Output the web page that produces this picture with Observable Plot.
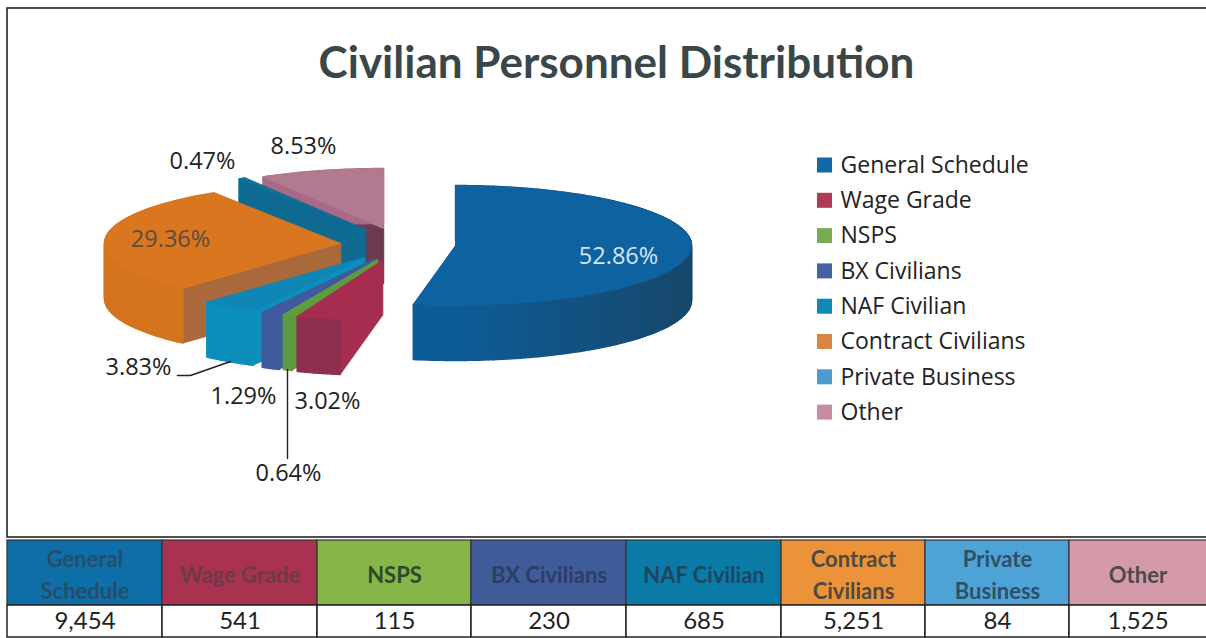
<!DOCTYPE html>
<html><head><meta charset="utf-8">
<script src="https://cdn.jsdelivr.net/npm/d3@7"></script>
<script src="https://cdn.jsdelivr.net/npm/@observablehq/plot@0.6"></script>
<style>html,body{margin:0;padding:0;background:#fff}svg{display:block}</style>
</head><body><div id="chart"></div>
<script>
// ---- data ----
const categories = ["General Schedule","Wage Grade","NSPS","BX Civilians","NAF Civilian","Contract Civilians","Private Business","Other"];
const headerLabels = ["General\nSchedule","Wage Grade","NSPS","BX Civilians","NAF Civilian","Contract\nCivilians","Private\nBusiness","Other"];
const counts = [9454,541,115,230,685,5251,84,1525];
const pctLabels = ["52.86%","3.02%","0.64%","1.29%","3.83%","29.36%","0.47%","8.53%"];

// ---- styles ----
const topColors  = ["#0e62a0","#a62c50","#5f9f3c","#41599f","#0f86b6","#d9761f","#11719a","#b27a90"];
const wallNear   = ["#0d5c98","#8f2f50","#5d9a40","#3f5b9d","#0c8fbb","#d4741f","#0e6a90","#a86a84"];
const wallFar    = ["#17486c","#8f2f50","#5d9a40","#3f5b9d","#0c8fbb","#cf7224","#0e6a90","#a86a84"];
const sideColors = ["#0d5a94","#a62d50","#5d9a40","#3f5b9d","#0c8fbb","#a9693a","#0e6a90","#6e3a50"];
const headColors = ["#0d6ea8","#a8324f","#86b548","#3f5b98","#0a7ba6","#ec9339","#4ea3d6","#d59aaa"];
const headText   = ["#274d6a","#6e3a4a","#2f4a2c","#2c3d66","#1e4660","#4f4a40","#2e5068","#4c4a4c"];
const swatches   = ["#0e6ba8","#b03a58","#79ab55","#46619f","#1288b8","#dc8540","#4b9bd0","#c88ba0"];

// ---- layout of the exploded 3D pie ----
const rx = 236, ry = 60, depth = 55;
const apexX = [455,382,377,373,364,340,365,383];
const apexY = [245,260,259,259,257,243,229,228];
const paintOrder = [7,6,5,4,3,2,1,0];
const labelX = [618,327,288,243,138,170,202,303];
const labelY = [256,401,473,396,367,239,161,146];
const labelColor = ["#d3e3f0","#222","#222","#222","#222","#5a4f3e","#222","#222"];

const total = d3.sum(counts);
const cum = d3.cumsum(counts);
const angle = v => v / total * 2 * Math.PI;
const rim = (i, a, dz = 0) => ({x: apexX[i] + rx * Math.sin(a), y: apexY[i] - ry * Math.cos(a) + dz});

const polys = [];
for (const i of paintOrder) {
  const a0 = angle(i ? cum[i-1] : 0), a1 = angle(cum[i]);
  const c = {x: apexX[i], y: apexY[i]}, cb = {x: apexX[i], y: apexY[i] + depth};
  const n = Math.max(2, Math.ceil((a1 - a0) / 0.02));
  const arc = d3.range(n + 1).map(k => a0 + (a1 - a0) * k / n);
  // radial walls
  polys.push({pts: [c, rim(i,a1), rim(i,a1,depth), cb], fill: sideColors[i], sw: 0.6});
  polys.push({pts: [c, rim(i,a0), rim(i,a0,depth), cb], fill: sideColors[i], sw: 0.6});
  // outer wall, shaded strip by strip; darkest where it faces away from the light
  const shade = d3.interpolateRgb(wallNear[i], wallFar[i]);
  for (let k = 0; k < n; k++) {
    const t = Math.max(0, Math.sin(arc[k]));
    polys.push({pts: [rim(i,arc[k]), rim(i,arc[k+1]), rim(i,arc[k+1],depth), rim(i,arc[k],depth)], fill: shade(t), sw: 1.4});
  }
  // top
  polys.push({pts: [c, ...arc.map(a => rim(i,a))], fill: topColors[i], sw: 0.6});
}
const polyMarks = polys.map(p => Plot.line(p.pts, {x:"x", y:"y", fill:p.fill, stroke:p.fill, strokeWidth:p.sw, curve:"linear-closed"}));

// ---- table ----
const colEdges = [7,162,317,471,626,781,925,1069,1212];
const cellCenters = [84.5,239.5,394,548.5,703.5,853,997,1137.5];
const tableY = [540,605,637];
const cols = categories.map((c,i) => ({i, x1: colEdges[i], x2: colEdges[i+1], cx: cellCenters[i],
  label: headerLabels[i], value: d3.format(",")(counts[i])}));

// ---- legend ----
const legend = categories.map((c,i) => ({c, i, y: 165 + i * 35.3}));

const plot = Plot.plot({
  width: 1206, height: 638, margin: 0,
  x: {domain:[0,1206], range:[0,1206], axis:null},
  y: {domain:[0,638], range:[0,638], axis:null},
  style: {background:"#fff"},
  marks: [
    // frame (runs off the right edge, as in the scan)
    Plot.rect([{}], {x1:7, x2:1212, y1:8, y2:537, fill:"#fff", stroke:"#222", strokeWidth:1.6}),
    Plot.text(["Civilian Personnel Distribution"], {x:616, y:63, text:d=>d, fontFamily:"Lato", fontWeight:700, fontSize:44, fill:"#3a4748"}),
    ...polyMarks,
    // leader lines
    Plot.line([{x:177,y:375},{x:190,y:375},{x:230,y:361}], {x:"x", y:"y", stroke:"#222", strokeWidth:1.6}),
    Plot.line([{x:287,y:369},{x:287,y:458}], {x:"x", y:"y", stroke:"#222", strokeWidth:1.4}),
    // percent labels
    Plot.text(pctLabels, {x:(d,i)=>labelX[i], y:(d,i)=>labelY[i], text:d=>d, fill:(d,i)=>labelColor[i], fontFamily:"Open Sans", fontSize:23.5}),
    // legend
    Plot.rect(legend, {x1:817, x2:832, y1:d=>d.y-7.5, y2:d=>d.y+7.5, fill:d=>swatches[d.i]}),
    Plot.text(legend, {x:840, y:"y", text:"c", textAnchor:"start", fontFamily:"Open Sans", fontSize:23, fill:"#222"}),
    // table
    Plot.rect(cols, {x1:"x1", x2:"x2", y1:tableY[0], y2:tableY[1], fill:d=>headColors[d.i], stroke:"#333", strokeWidth:1.2}),
    Plot.rect(cols, {x1:"x1", x2:"x2", y1:tableY[1], y2:tableY[2], fill:"#fff", stroke:"#222", strokeWidth:1.5}),
    Plot.text(cols, {x:"cx", y:(tableY[0]+tableY[1])/2, text:"label", fill:d=>headText[d.i], fontFamily:"Lato", fontWeight:700, fontSize:22, lineHeight:1.45}),
    Plot.text(cols, {x:"cx", y:(tableY[1]+tableY[2])/2, text:"value", fill:"#222", fontFamily:"Lato", fontSize:24})
  ]
});
document.getElementById("chart").append(plot);
</script></body></html>
